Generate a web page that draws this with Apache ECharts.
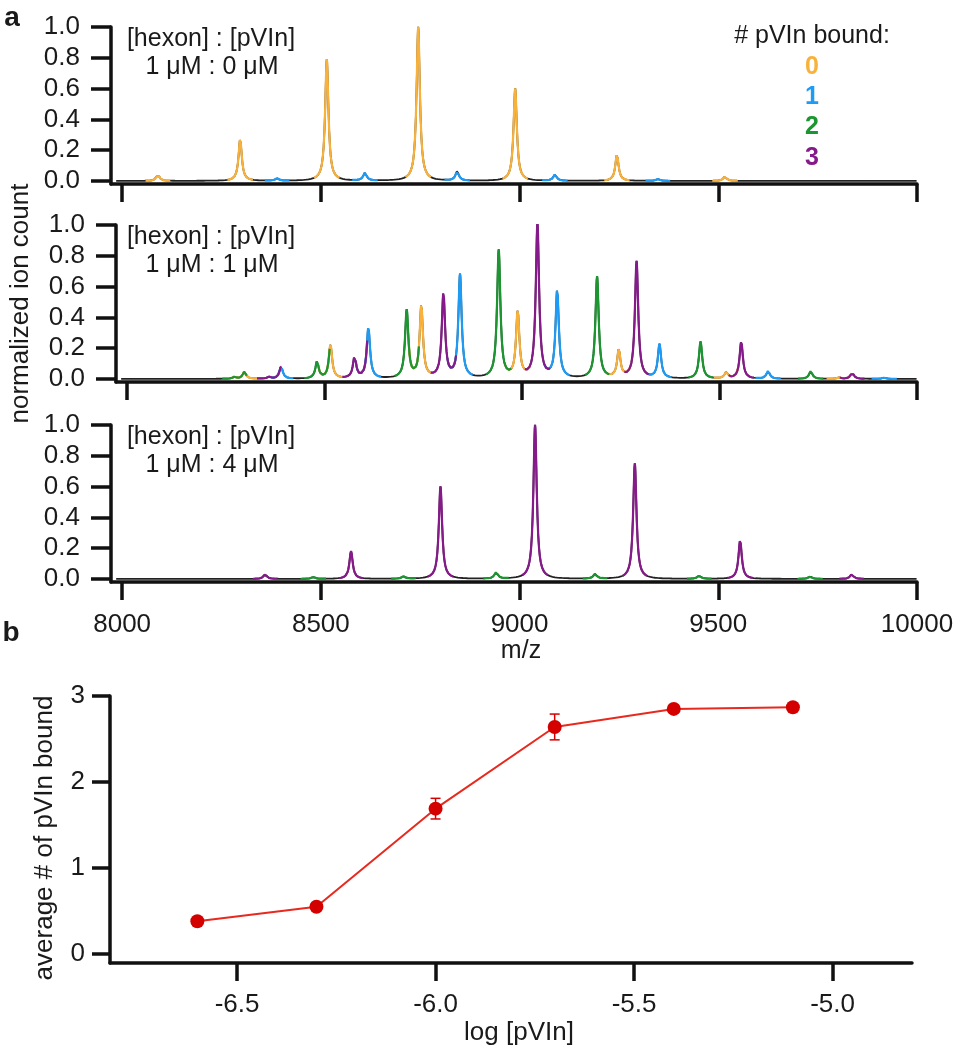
<!DOCTYPE html>
<html><head><meta charset="utf-8">
<script src="https://cdn.jsdelivr.net/npm/echarts@6/dist/echarts.min.js"></script>
<style>html,body{margin:0;padding:0;background:#fff}#c{width:964px;height:1050px}</style>
</head><body><div id="c"></div>
<script>
// ---- panel a: peak m/z positions, by number of pVIn bound ----
const mzBound0 = [8090, 8297, 8515, 8745, 8989, 9245, 9517, 9803];
const mzBound1 = [8390, 8611, 8843, 9089, 9348, 9623, 9917];
const mzBound2 = [8272, 8481, 8708, 8941, 9190, 9452, 9731];
const mzBound3 = [8360, 8576, 8801, 9039, 9290, 9555, 9836];

// normalized peak heights (null = no peak) — [hexon]:[pVIn] = 1 µM : 0 µM
const r0_bound0 = [0.04, 0.27, 0.79, 1.00, 0.60, 0.17, 0.03, null];
const r0_bound1 = [0.015, 0.05, 0.06, 0.04, 0.012, null, null];
// 1 µM : 1 µM
const r1_bound0 = [null, 0.047, 0.22, 0.47, 0.43, 0.18, 0.04, 0.008];
const r1_bound1 = [0.08, 0.33, 0.67, 0.57, 0.22, 0.05, 0.008];
const r1_bound2 = [0.012, 0.11, 0.44, 0.83, 0.66, 0.24, 0.05];
const r1_bound3 = [0.012, 0.14, 0.55, 1.00, 0.76, 0.24, 0.04];
// 1 µM : 4 µM
const r4_bound2 = [null, 0.012, 0.015, 0.04, 0.03, 0.02, 0.015];
const r4_bound3 = [0.03, 0.18, 0.60, 1.00, 0.75, 0.25, 0.03];

const panelLabels = ['1 μM : 0 μM', '1 μM : 1 μM', '1 μM : 4 μM'];
const mzTicks = [8000, 8500, 9000, 9500, 10000];
const intensityTicks = [0, 0.2, 0.4, 0.6, 0.8, 1.0];
const boundLabels = ['0', '1', '2', '3'];

// ---- panel b ----
const logPVIn = [-6.6, -6.3, -6.0, -5.7, -5.4, -5.1];
const avgBound = [0.38, 0.55, 1.69, 2.64, 2.85, 2.87];
const avgErr = [0.02, 0.03, 0.12, 0.15, 0.02, 0.02];
const logTicks = [-6.5, -6.0, -5.5, -5.0];
const boundTicks = [0, 1, 2, 3];

// ---- styling ----
const FF = '"Liberation Sans", Arial, Helvetica, sans-serif';
const TXT = '#1a1a1a';
const AX = '#111';
const speciesColors = ['#f8b13a', '#1e9cf5', '#1b9630', '#871a8a'];
const GAMMA = 5; // peak half-width (Da), line shape only

const panels = [
  [r0_bound0, r0_bound1, null, null],
  [r1_bound0, r1_bound1, r1_bound2, r1_bound3],
  [null, null, r4_bound2, r4_bound3]
];
const mzLists = [mzBound0, mzBound1, mzBound2, mzBound3];

function peaksOf(hs) {
  const out = [];
  hs.forEach((arr, s) => {
    if (!arr) return;
    arr.forEach((h, i) => { if (h != null) out.push({ c: mzLists[s][i], h: h, s: s }); });
  });
  return out;
}
function total(peaks, x) {
  let y = 0;
  for (const p of peaks) { const d = x - p.c; y += p.h * GAMMA * GAMMA / (d * d + GAMMA * GAMMA); }
  return y;
}

const series = [];
panels.forEach((hs, pi) => {
  const peaks = peaksOf(hs);
  let xs = [];
  for (let x = 7985; x <= 10000; x += 2) xs.push(x);
  peaks.forEach(p => [-3, -1.5, -0.75, 0, 0.75, 1.5, 3].forEach(o => xs.push(p.c + o)));
  xs = Array.from(new Set(xs)).sort((a, b) => a - b);
  series.push({
    type: 'line', xAxisIndex: pi, yAxisIndex: pi, showSymbol: false, silent: true,
    lineStyle: { color: '#222', width: 1.8 }, data: xs.map(x => [x, total(peaks, x)]), z: 2
  });
  for (let s = 0; s < 4; s++) {
    const data = [];
    peaks.filter(p => p.s === s).forEach(p => {
      xs.filter(x => x >= p.c - 32 && x <= p.c + 32).forEach(x => data.push([x, total(peaks, x)]));
      data.push([p.c + 33, null]);
    });
    if (!data.length) continue;
    series.push({
      type: 'line', xAxisIndex: pi, yAxisIndex: pi, showSymbol: false, silent: true,
      connectNulls: false, lineStyle: { color: speciesColors[s], width: 2.2 }, data: data, z: 3
    });
  }
});

// panel b series
series.push({
  type: 'line', xAxisIndex: 3, yAxisIndex: 3, data: logPVIn.map((x, i) => [x, avgBound[i]]),
  symbol: 'circle', symbolSize: 14, itemStyle: { color: '#d40000' },
  lineStyle: { color: '#e8291e', width: 2 }, z: 4
});
series.push({
  type: 'custom', xAxisIndex: 3, yAxisIndex: 3,
  data: logPVIn.map((x, i) => [x, avgBound[i] - avgErr[i], avgBound[i] + avgErr[i]]),
  encode: { x: 0, y: [1, 2] }, z: 5,
  renderItem: function (params, api) {
    const lo = api.coord([api.value(0), api.value(1)]);
    const hi = api.coord([api.value(0), api.value(2)]);
    const w = 5, st = { stroke: '#d40000', lineWidth: 1.5 };
    return {
      type: 'group', children: [
        { type: 'line', shape: { x1: lo[0], y1: lo[1], x2: hi[0], y2: hi[1] }, style: st },
        { type: 'line', shape: { x1: lo[0] - w, y1: lo[1], x2: lo[0] + w, y2: lo[1] }, style: st },
        { type: 'line', shape: { x1: hi[0] - w, y1: hi[1], x2: hi[0] + w, y2: hi[1] }, style: st }
      ]
    };
  }
});

const gridTops = [27, 225, 425];
const grids = gridTops.map(t => ({ left: 111, right: 47, top: t, height: 157 }));
grids.push({ left: 110, right: 52, top: 696, height: 267 });

const LW = 3.5;
const tickStyle = { color: AX, width: LW };
const xAxes = [0, 1, 2].map(i => ({
  type: 'value', gridIndex: i, min: 7972, max: 10000,
  axisLine: { onZero: false, lineStyle: { color: AX, width: LW } },
  axisTick: { customValues: mzTicks, length: 18, lineStyle: tickStyle },
  axisLabel: { show: i === 2, customValues: mzTicks, margin: 30, fontSize: 26, color: TXT, fontFamily: FF, formatter: v => String(v) },
  splitLine: { show: false },
  name: i === 2 ? 'm/z' : '', nameLocation: 'middle', nameGap: 56,
  nameTextStyle: { fontSize: 25, color: TXT, fontFamily: FF, padding: [0, 0, 0, 14] }
}));
xAxes.push({
  type: 'value', gridIndex: 3, min: -6.82, max: -4.80,
  axisLine: { onZero: false, lineStyle: { color: AX, width: LW } },
  axisTick: { customValues: logTicks, length: 18, lineStyle: tickStyle },
  axisLabel: { customValues: logTicks, margin: 29, fontSize: 26, color: TXT, fontFamily: FF, formatter: v => v.toFixed(1) },
  splitLine: { show: false },
  name: 'log [pVIn]', nameLocation: 'middle', nameGap: 57,
  nameTextStyle: { fontSize: 26, color: TXT, fontFamily: FF, padding: [0, 0, 0, 16] }
});
const yAxes = [0, 1, 2].map(i => ({
  type: 'value', gridIndex: i, min: -0.02, max: 1.0,
  axisLine: { onZero: false, lineStyle: { color: AX, width: LW } },
  axisTick: { customValues: intensityTicks, length: 20, lineStyle: tickStyle },
  axisLabel: { customValues: intensityTicks, margin: 31, fontSize: 26, color: TXT, fontFamily: FF, formatter: v => v.toFixed(1) },
  splitLine: { show: false },
  name: i === 1 ? 'normalized ion count' : '', nameLocation: 'middle', nameGap: 82,
  nameTextStyle: { fontSize: 26, color: TXT, fontFamily: FF }
}));
yAxes.push({
  type: 'value', gridIndex: 3, min: -0.105, max: 3,
  axisLine: { onZero: false, lineStyle: { color: AX, width: LW } },
  axisTick: { customValues: boundTicks, length: 18, lineStyle: tickStyle },
  axisLabel: { customValues: boundTicks, margin: 25, fontSize: 26, color: TXT, fontFamily: FF },
  splitLine: { show: false },
  name: 'average # of pVIn bound', nameLocation: 'middle', nameGap: 52,
  nameTextStyle: { fontSize: 26, color: TXT, fontFamily: FF, padding: [0, 17, 0, 0] }
});

const graphics = [];
function txt(x, y, text, font, fill, align) {
  graphics.push({ type: 'text', x: x, y: y, silent: true,
    style: { text: text, font: font, fill: fill || TXT, textAlign: align || 'center', textVerticalAlign: 'middle' } });
}
txt(12, 18, 'a', 'bold 28px ' + FF);
txt(11, 633, 'b', 'bold 28px ' + FF);
gridTops.forEach((t, i) => {
  txt(211, t + 12, '[hexon] : [pVIn]', '25px ' + FF);
  txt(212, t + 40, panelLabels[i], '25px ' + FF);
});
txt(812, 36, '# pVIn bound:', '25px ' + FF);
boundLabels.forEach((l, i) => txt(812, 67 + i * 30.3, l, 'bold 25px ' + FF, speciesColors[i]));

const chart = echarts.init(document.getElementById('c'), null, { renderer: 'canvas' });
chart.setOption({
  animation: false, backgroundColor: '#fff',
  grid: grids, xAxis: xAxes, yAxis: yAxes, series: series, graphic: graphics
});
</script></body></html>
